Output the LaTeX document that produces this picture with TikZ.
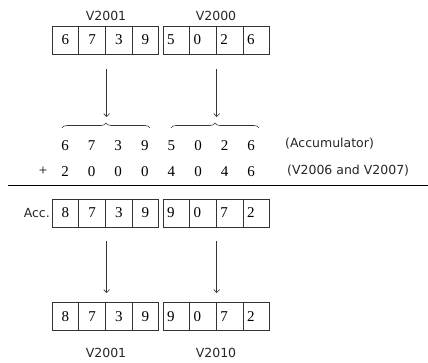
\documentclass[tikz,border=0pt]{standalone}
\usepackage{fontspec}
\newfontfamily\labelfont{DejaVu Sans}
\newfontfamily\digitfont{Liberation Serif}
\usetikzlibrary{arrows.meta,decorations.pathreplacing}

\tikzset{
  cell/.style={draw=black!80,line width=0.8pt,minimum width=26.7pt,minimum height=28pt,
    inner sep=0pt,font=\digitfont\fontsize{15}{15}\selectfont},
  lcell/.style={cell,text width=18.7pt,inner xsep=4pt,align=left},
  digit/.style={inner sep=0pt,font=\digitfont\fontsize{15}{15}\selectfont},
  tag/.style={inner sep=0pt,text=black!85,font=\labelfont\fontsize{12.5}{12.5}\selectfont},
  flow/.style={black!80,line width=0.6pt,-{Straight Barb[length=3pt,width=6pt]}},
  brc/.style={black!80,line width=0.6pt,decorate,decoration={brace,amplitude=5pt}}
}

\begin{document}
\begin{tikzpicture}[x=1pt,y=-1pt]
  \useasboundingbox (0,0) rectangle (428,362);
  % source registers
  \node[tag] (vhi) at (106,16) {V2001};
  \node[tag] (vlo) at (216,16) {V2000};
  \foreach \d [count=\i] in {6,7,3,9} \node[cell] (thi\i) at ({52+26.7*(\i-0.5)},40) {\d};
  \foreach \d [count=\i] in {5,0,2,6} \node[lcell] (tlo\i) at ({163+26.7*(\i-0.5)},40) {\d};
  % load arrows
  \coordinate (s1) at (106.7,69);
  \coordinate (e1) at (106.7,117);
  \coordinate (s2) at (216.7,69);
  \coordinate (e2) at (216.7,117);
  \draw[flow] (s1) -- (e1);
  \draw[flow] (s2) -- (e2);
  \draw[brc] (62,128) -- (150,128);
  \draw[brc] (171,128) -- (259,128);
  % addition
  \foreach \d [count=\i] in {6,7,3,9,5,0,2,6} \node[digit] (p\i) at ({65+26.6*(\i-1)},146) {\d};
  \foreach \d [count=\i] in {2,0,0,0,4,0,4,6} \node[digit] (q\i) at ({65+26.6*(\i-1)},172) {\d};
  \node[digit] (plus) at (43,171) {+};
  \node[tag,anchor=west] (acc) at (285,144) {(Accumulator)};
  \node[tag,anchor=west] (src) at (287,171) {(V2006 and V2007)};
  \coordinate (rl) at (8,185);
  \coordinate (rr) at (428,185);
  \draw[line width=1pt] (rl) -- (rr);
  % result in accumulator
  \node[tag,anchor=east] (acclbl) at (50,213) {Acc.};
  \foreach \d [count=\i] in {8,7,3,9} \node[cell] (ahi\i) at ({52+26.7*(\i-0.5)},213) {\d};
  \foreach \d [count=\i] in {9,0,7,2} \node[lcell] (alo\i) at ({163+26.7*(\i-0.5)},213) {\d};
  % store arrows
  \coordinate (s3) at (106.7,241);
  \coordinate (e3) at (106.7,293);
  \coordinate (s4) at (216.7,241);
  \coordinate (e4) at (216.7,293);
  \draw[flow] (s3) -- (e3);
  \draw[flow] (s4) -- (e4);
  % destination registers
  \foreach \d [count=\i] in {8,7,3,9} \node[cell] (bhi\i) at ({52+26.7*(\i-0.5)},316.5) {\d};
  \foreach \d [count=\i] in {9,0,7,2} \node[lcell] (blo\i) at ({163+26.7*(\i-0.5)},316.5) {\d};
  \node[tag] (whi) at (106,353) {V2001};
  \node[tag] (wlo) at (216,353) {V2010};
\end{tikzpicture}
\end{document}
